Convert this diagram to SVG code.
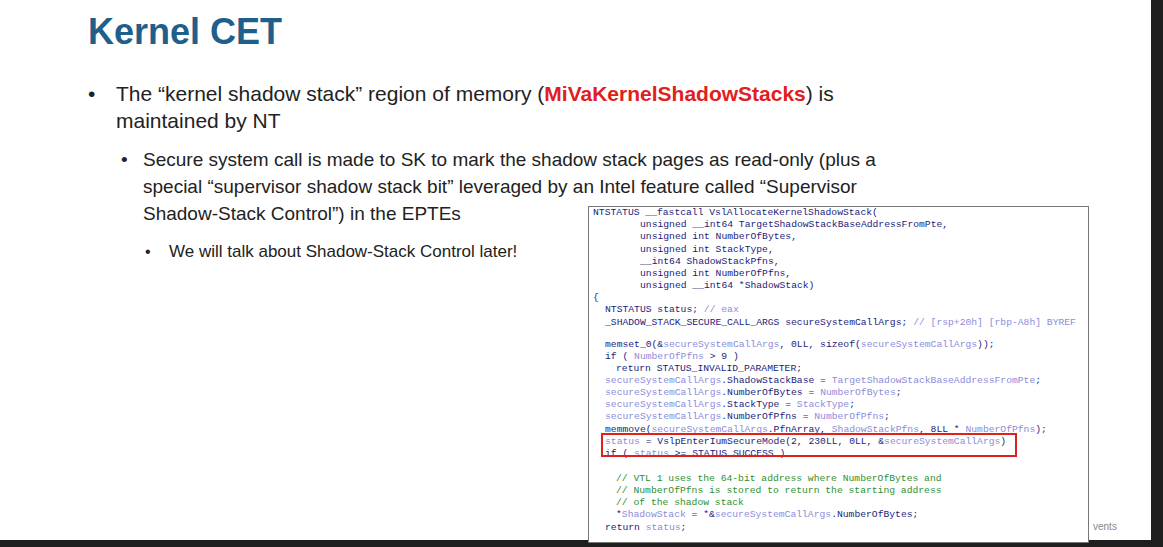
<svg xmlns="http://www.w3.org/2000/svg" width="1163" height="547" viewBox="0 0 1163 547">
<style>
.b{font-family:"Liberation Sans",Arial,sans-serif;fill:#222}
.c{font-family:"Liberation Mono","DejaVu Sans Mono",monospace;font-size:9.7px;fill:#1c1c7a;white-space:pre}
.v{fill:#8c8cdc}
.g{fill:#2f8f2f}
</style>
<rect width="1163" height="547" fill="#ffffff"/>
<rect x="1151" y="0" width="12" height="547" fill="#1e1e1e"/>
<rect x="0" y="540" width="1163" height="7" fill="#1e1e1e"/>
<text x="88" y="44" font-family="Liberation Sans,Arial,sans-serif" font-weight="bold" font-size="36" fill="#1f5f8c">Kernel CET</text>
<g class="b">
<text x="88" y="101" font-size="21">•</text>
<text x="116" y="101" font-size="21">The “kernel shadow stack” region of memory (<tspan fill="#e0201c" font-weight="bold">MiVaKernelShadowStacks</tspan>) is</text>
<text x="116" y="128" font-size="21">maintained by NT</text>
<text x="121" y="166" font-size="19">•</text>
<text x="143" y="166" font-size="19">Secure system call is made to SK to mark the shadow stack pages as read-only (plus a</text>
<text x="143" y="193" font-size="19">special “supervisor shadow stack bit” leveraged by an Intel feature called “Supervisor</text>
<text x="143" y="220" font-size="19">Shadow-Stack Control”) in the EPTEs</text>
<text x="145" y="257" font-size="16">•</text>
<text x="169" y="257" font-size="17">We will talk about Shadow-Stack Control later!</text>
</g>
<rect x="588.5" y="206.5" width="500" height="336" fill="#fff" stroke="#777" stroke-width="1"/>
<g class="c" xml:space="preserve">
<text x="593" y="215">NTSTATUS __fastcall VslAllocateKernelShadowStack(</text>
<text x="640" y="227">unsigned __int64 TargetShadowStackBaseAddressFromPte,</text>
<text x="640" y="239">unsigned int NumberOfBytes,</text>
<text x="640" y="252">unsigned int StackType,</text>
<text x="640" y="264">__int64 ShadowStackPfns,</text>
<text x="640" y="276">unsigned int NumberOfPfns,</text>
<text x="640" y="288">unsigned __int64 *ShadowStack)</text>
<text x="593" y="300">{</text>
<text x="605" y="312">NTSTATUS status; <tspan class="v">// eax</tspan></text>
<text x="605" y="325">_SHADOW_STACK_SECURE_CALL_ARGS secureSystemCallArgs; <tspan class="v">// [rsp+20h] [rbp-A8h] BYREF</tspan></text>
<text x="605" y="347">memset_0(&amp;<tspan class="v">secureSystemCallArgs</tspan>, 0LL, sizeof(<tspan class="v">secureSystemCallArgs</tspan>));</text>
<text x="605" y="359">if ( <tspan class="v">NumberOfPfns</tspan> &gt; 9 )</text>
<text x="616" y="371">return STATUS_INVALID_PARAMETER;</text>
<text x="605" y="383"><tspan class="v">secureSystemCallArgs</tspan>.ShadowStackBase = <tspan class="v">TargetShadowStackBaseAddressFromPte</tspan>;</text>
<text x="605" y="395"><tspan class="v">secureSystemCallArgs</tspan>.NumberOfBytes = <tspan class="v">NumberOfBytes</tspan>;</text>
<text x="605" y="407"><tspan class="v">secureSystemCallArgs</tspan>.StackType = <tspan class="v">StackType</tspan>;</text>
<text x="605" y="419"><tspan class="v">secureSystemCallArgs</tspan>.NumberOfPfns = <tspan class="v">NumberOfPfns</tspan>;</text>
<text x="605" y="432">memmove(<tspan class="v">secureSystemCallArgs</tspan>.PfnArray, <tspan class="v">ShadowStackPfns</tspan>, 8LL * <tspan class="v">NumberOfPfns</tspan>);</text>
<text x="605" y="444"><tspan class="v">status</tspan> = VslpEnterIumSecureMode(2, 230LL, 0LL, &amp;<tspan class="v">secureSystemCallArgs</tspan>)</text>
<text x="605" y="456">if ( <tspan class="v">status</tspan> &gt;= STATUS_SUCCESS )</text>
<text x="616" y="481" class="g">// VTL 1 uses the 64-bit address where NumberOfBytes and</text>
<text x="616" y="493" class="g">// NumberOfPfns is stored to return the starting address</text>
<text x="616" y="505" class="g">// of the shadow stack</text>
<text x="616" y="517">*<tspan class="v">ShadowStack</tspan> = *&amp;<tspan class="v">secureSystemCallArgs</tspan>.NumberOfBytes;</text>
<text x="605" y="530">return <tspan class="v">status</tspan>;</text>
</g>
<rect x="602" y="434" width="414" height="22" fill="none" stroke="#e0201c" stroke-width="2"/>
<text x="1093" y="530" font-family="Liberation Sans,Arial,sans-serif" font-size="10" fill="#888">vents</text>
</svg>
